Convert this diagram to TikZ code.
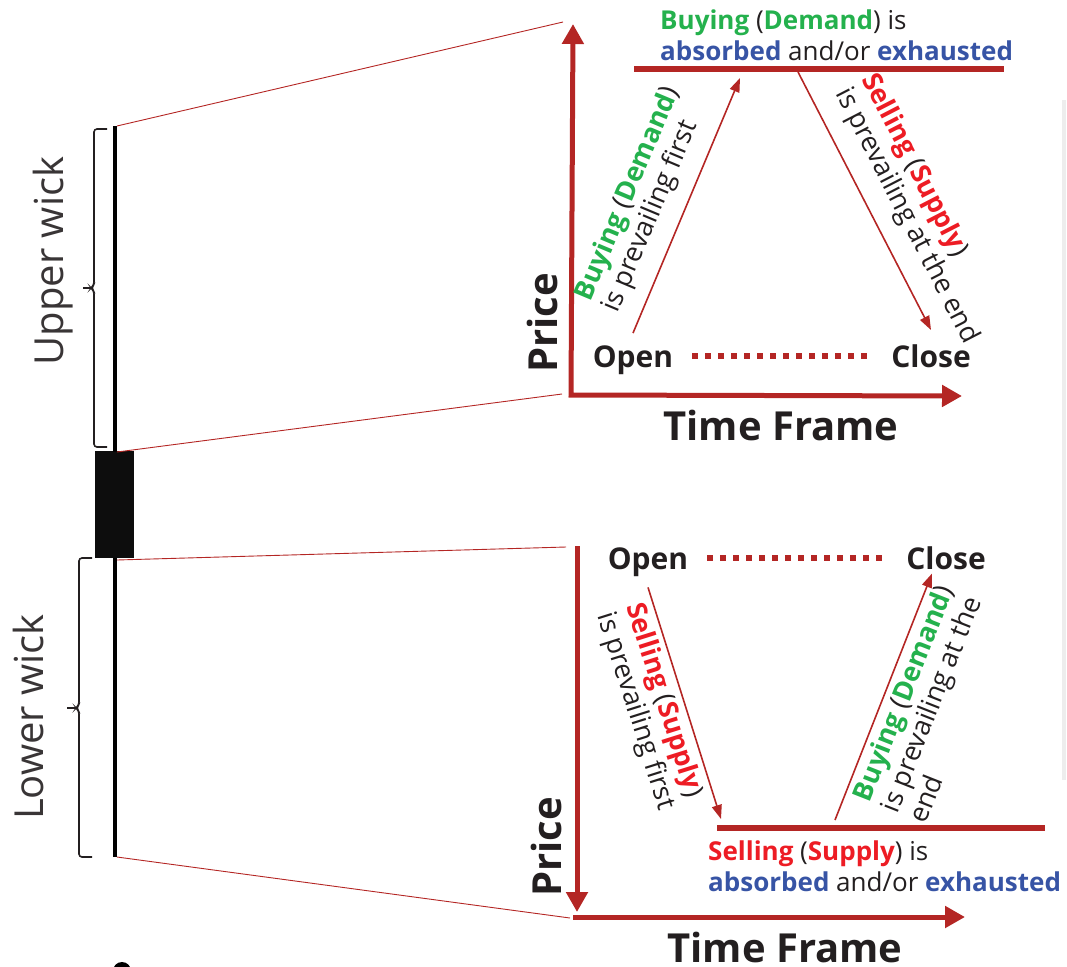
\documentclass[tikz,border=0pt]{standalone}
\usepackage{fontspec}
\setmainfont{Open Sans}
\usetikzlibrary{arrows.meta,positioning,calc}

\definecolor{barRed}{RGB}{180,38,36}
\definecolor{buyGreen}{RGB}{36,177,77}
\definecolor{sellRed}{RGB}{237,28,36}
\definecolor{waneBlue}{RGB}{55,84,165}
\definecolor{inkGray}{RGB}{35,31,32}

\newcommand{\buyTxt}[1]{{\bfseries\color{buyGreen}#1}}
\newcommand{\sellTxt}[1]{{\bfseries\color{sellRed}#1}}
\newcommand{\waneTxt}[1]{{\bfseries\color{waneBlue}#1}}

\tikzset{
    priceAxis/.style={draw=barRed, line width=5pt, line join=miter},
    flowArrow/.style={draw=barRed, line width=1.6pt, -{Triangle[length=14pt,width=10pt]}},
    levelLine/.style={draw=barRed, line width=6pt},
    zoomLine/.style={draw=barRed, line width=0.9pt},
    dotLine/.style={draw=barRed, line width=5.5pt, dash pattern=on 6pt off 7pt},
    wickBrace/.style={draw=inkGray, line width=1.6pt, rounded corners=3pt},
    ocTag/.style={font=\fontsize{30}{36}\selectfont\bfseries, text=inkGray, inner sep=0pt, anchor=base},
    axisTag/.style={font=\fontsize{40}{48}\selectfont\bfseries, text=inkGray, inner sep=0pt, anchor=base},
    wickTag/.style={font=\fontsize{40}{48}\selectfont, text=inkGray!90, inner sep=0pt, rotate=90, anchor=base},
    flowTag/.style={font=\fontsize{27}{30}\selectfont, text=inkGray, inner sep=0pt, align=left, sloped},
    levelTag/.style={font=\fontsize{26}{31}\selectfont, text=inkGray, inner sep=0pt, align=left}
}

\begin{document}
\begin{tikzpicture}[x=1pt, y=-1pt]
\useasboundingbox (0,0) rectangle (1067,966);

% candle
\coordinate (upWickTop) at (115,126);
\coordinate (upWickBot) at (115,452);
\coordinate (loWickTop) at (115,558);
\coordinate (loWickBot) at (115,857);
\fill[black!95] (95,451) rectangle (134,558);
\draw[line width=4.5pt] (upWickTop) -- (upWickBot);
\draw[line width=4.5pt] (loWickTop) -- (loWickBot);
\fill (122,971) circle (9pt);
\draw[black!7, line width=4pt] (1064,100) -- (1064,780);

% braces and wick names
\draw[wickBrace] (107,129) -- (94,129) -- (94,285) -- (91,288) -- (94,291) -- (94,447) -- (107,447);
\draw[wickBrace, line width=2.5pt] (92,288) -- (83,288);
\draw[wickBrace] (92,558) -- (79,558) -- (79,705) -- (76,708) -- (79,711) -- (79,857) -- (92,857);
\draw[wickBrace, line width=2.5pt] (77,708) -- (67,708);
\node[wickTag] (upWick) at (63,261) {Upper wick};
\node[wickTag] (loWick) at (43,717) {Lower wick};

% upper chart
\coordinate (uOrig) at (571,395);
\coordinate (uTop) at (573,24);
\coordinate (uEnd) at (962,396);
\coordinate (uZoomTop) at (563,22);
\coordinate (uZoomBot) at (562,394);
\draw[priceAxis, {Triangle[length=20pt,width=21pt]}-{Triangle[length=20pt,width=21pt]}] (uTop) -- (uOrig) -- (uEnd);
\draw[zoomLine] ([xshift=2pt]upWickTop) -- (uZoomTop);
\draw[zoomLine] ([xshift=2pt]upWickBot) -- (uZoomBot);

\node[axisTag, rotate=90] (uPrice) at (557,323) {Price};
\node[axisTag] (uTime) at (781,440) {Time Frame};
\node[ocTag] (uOpen) at (633,367) {Open};
\node[ocTag] (uClose) at (931,367) {Close};
\draw[dotLine] ($(uOpen.east |- uClose.west)+(19,0)$) -- ($(uClose.west)+(-21,0)$);

\coordinate (uHighL) at (634,69);
\coordinate (uHighR) at (1004,69);
\coordinate (uBuyEnd) at (740,78);
\coordinate (uSellStart) at (798,72);
\draw[levelLine] (uHighL) -- (uHighR);
\node[levelTag, anchor=south west] (uHighTag) at ([xshift=26pt,yshift=8pt]uHighL)
    {\buyTxt{Buying} (\buyTxt{Demand}) is\\\waneTxt{absorbed} and/or \waneTxt{exhausted}};

\draw[flowArrow] ([yshift=12pt]uOpen.north) -- node[flowTag, pos=0.04, anchor=south west, yshift=14pt]
    {\buyTxt{Buying} (\buyTxt{Demand})\\is prevailing first} (uBuyEnd);
\draw[flowArrow] (uSellStart) -- node[flowTag, pos=0.12, anchor=south west, yshift=16pt]
    {\sellTxt{Selling} (\sellTxt{Supply})\\is prevailing at the end} ([yshift=14pt]uClose.north);

% lower chart
\coordinate (lTop) at (577,546);
\coordinate (lTip) at (577,912);
\coordinate (lOrig) at (573,917);
\coordinate (lEnd) at (965,917);
\coordinate (lZoomTop) at (566,547);
\coordinate (lZoomBot) at (570,918);
\draw[priceAxis, -{Triangle[length=20pt,width=21pt]}] (lTop) -- (lTip);
\draw[priceAxis, -{Triangle[length=20pt,width=21pt]}] (lOrig) -- (lEnd);
\draw[zoomLine] ([xshift=2pt,yshift=-2pt]loWickTop) -- (lZoomTop);
\draw[zoomLine] ([xshift=2pt]loWickBot) -- (lZoomBot);

\node[axisTag, rotate=90] (lPrice) at (561,847) {Price};
\node[axisTag] (lTime) at (785,962) {Time Frame};
\node[ocTag] (lOpen) at (648,569) {Open};
\node[ocTag] (lClose) at (946,569) {Close};
\draw[dotLine] ($(lOpen.east |- lClose.west)+(19,0)$) -- ($(lClose.west)+(-22,0)$);

\coordinate (lLowL) at (717,828);
\coordinate (lLowR) at (1045,828);
\coordinate (lSellEnd) at (721,819);
\coordinate (lBuyStart) at (835,820);
\draw[levelLine] (lLowL) -- (lLowR);
\node[levelTag, anchor=north west] (lLowTag) at ([xshift=-9pt,yshift=-13pt]lLowL)
    {\sellTxt{Selling} (\sellTxt{Supply}) is\\\waneTxt{absorbed} and/or \waneTxt{exhausted}};

\draw[flowArrow] ([yshift=-11pt]lOpen.south) -- node[flowTag, pos=0.045, anchor=north west, yshift=-5pt]
    {\sellTxt{Selling} (\sellTxt{Supply})\\is prevailing first} (lSellEnd);
\draw[flowArrow] (lBuyStart) -- node[flowTag, pos=0.105, anchor=north west, yshift=-5pt]
    {\buyTxt{Buying} (\buyTxt{Demand})\\is prevailing at the\\end} ([xshift=-14pt,yshift=-4pt]lClose.south);
\end{tikzpicture}
\end{document}
